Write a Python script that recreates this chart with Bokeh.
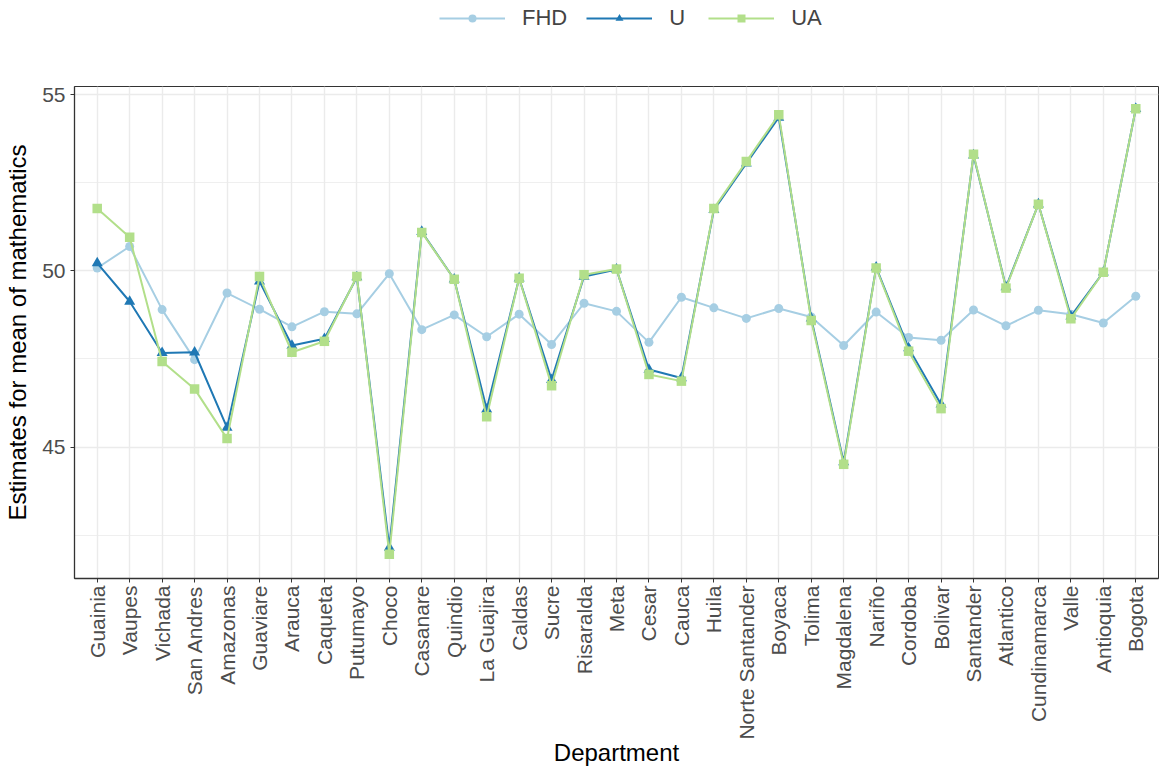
import math
from bokeh.plotting import figure
from bokeh.layouts import column
from bokeh.models import (FactorRange, Range1d, FixedTicker, Legend, LegendItem,
                          ColumnDataSource)
from bokeh.embed import file_html
from bokeh.resources import INLINE

departments = ["Guainia", "Vaupes", "Vichada", "San Andres", "Amazonas", "Guaviare",
               "Arauca", "Caqueta", "Putumayo", "Choco", "Casanare", "Quindio",
               "La Guajira", "Caldas", "Sucre", "Risaralda", "Meta", "Cesar", "Cauca",
               "Huila", "Norte Santander", "Boyaca", "Tolima", "Magdalena", "Nariño",
               "Cordoba", "Bolivar", "Santander", "Atlantico", "Cundinamarca", "Valle",
               "Antioquia", "Bogota"]

fhd = [50.08, 50.69, 48.90, 47.48, 49.37, 48.91, 48.41, 48.84, 48.78, 49.92, 48.33,
       48.75, 48.13, 48.77, 47.91, 49.08, 48.85, 47.97, 49.25, 48.95, 48.65, 48.93,
       48.69, 47.88, 48.83, 48.11, 48.03, 48.89, 48.44, 48.88, 48.77, 48.52, 49.28]
u = [50.22, 49.13, 47.67, 47.69, 45.55, 49.70, 47.88, 48.07, 49.82, 42.15, 51.11,
     49.76, 46.07, 49.79, 46.91, 49.84, 50.04, 47.20, 46.96, 51.73, 53.05, 54.35,
     48.65, 44.57, 50.10, 47.81, 46.21, 53.28, 49.54, 51.89, 48.71, 49.96, 54.60]
ua = [51.77, 50.95, 47.43, 46.65, 45.24, 49.84, 47.69, 48.00, 49.84, 41.96, 51.09,
      49.76, 45.86, 49.79, 46.74, 49.89, 50.05, 47.06, 46.87, 51.77, 53.10, 54.43,
      48.59, 44.51, 50.08, 47.72, 46.09, 53.31, 49.51, 51.89, 48.64, 49.96, 54.60]

series_names = ["FHD", "U", "UA"]
y_ticks = [45, 50, 55]
y_minor = [42.5, 47.5, 52.5]

src = ColumnDataSource(dict(dept=departments, fhd=fhd, u=u, ua=ua))

FONT = "Liberation Sans"
colors = ["#a6cee3", "#1f78b4", "#b2df8a"]
markers = ["circle", "triangle", "square"]
msizes = [9, 11, 9.5]
cols = ["fhd", "u", "ua"]

# ---------------- main plot ----------------
p = figure(width=1160, height=698, output_backend="svg", toolbar_location=None,
           x_range=FactorRange(*departments, range_padding=0.2,
                               range_padding_units="absolute"),
           y_range=Range1d(41.27, 55.23),
           min_border_left=74, min_border_right=2, min_border_top=16,
           min_border_bottom=190)

for col, c, m, s in zip(cols, colors, markers, msizes):
    p.line("dept", col, source=src, color=c, line_width=2)
    p.scatter("dept", col, source=src, marker=m, size=s, color=c, line_color=None)

p.xgrid.grid_line_color = "#ebebeb"
p.xgrid.grid_line_width = 1.4
p.ygrid.grid_line_color = "#ebebeb"
p.ygrid.grid_line_width = 1.4
p.ygrid.minor_grid_line_color = "#ebebeb"
p.ygrid.minor_grid_line_width = 0.8
p.yaxis.ticker = FixedTicker(ticks=y_ticks, minor_ticks=y_minor)
p.ygrid.ticker = p.yaxis.ticker

p.outline_line_color = "#333333"
p.outline_line_width = 1

for ax in (p.xaxis[0], p.yaxis[0]):
    ax.axis_line_color = "#333333"
    ax.axis_line_width = 1.3
    ax.major_tick_line_color = "#333333"
    ax.major_tick_in = 0
    ax.major_tick_out = 4
    ax.minor_tick_line_color = None
    ax.major_label_text_font = FONT
    ax.major_label_text_font_size = "21px"
    ax.major_label_text_color = "#4d4d4d"
    ax.axis_label_text_font = FONT
    ax.axis_label_text_font_size = "24px"
    ax.axis_label_text_font_style = "normal"
    ax.axis_label_text_color = "#000000"

p.xaxis.axis_label = "Department"
p.yaxis.axis_label = "Estimates for mean of mathematics"
p.xaxis.major_label_orientation = math.pi / 2
p.xaxis.major_label_standoff = 3
p.xaxis.axis_label_standoff = -4
p.yaxis.major_label_standoff = 5
p.yaxis.axis_label_standoff = 8

# ---------------- legend strip ----------------
# same data, but with a y range that keeps the marks out of view:
# only the legend of this strip is visible
lg = figure(width=1160, height=70, output_backend="svg", toolbar_location=None,
            x_range=p.x_range, y_range=Range1d(0, 1),
            x_axis_location=None, y_axis_location=None,
            min_border_left=74, min_border_right=2, min_border_top=0,
            min_border_bottom=0)
lg.grid.visible = False
lg.outline_line_color = None
items = []
for name, col, c, m in zip(series_names, cols, colors, markers):
    lr = lg.line("dept", col, source=src, color=c, line_width=2)
    sr = lg.scatter("dept", col, source=src, marker=m, color=c, line_color=None)
    items.append(LegendItem(label=name, renderers=[lr, sr]))

legend = Legend(items=items, orientation="horizontal", location=(365, 39),
                glyph_width=66, glyph_height=20, label_standoff=17, spacing=19,
                padding=0, margin=0,
                label_text_font=FONT, label_text_font_size="22px",
                border_line_color=None, background_fill_alpha=0)
lg.add_layout(legend, "center")

layout = column(lg, p, spacing=0)
open("out.html", "w").write(file_html(layout, INLINE))
